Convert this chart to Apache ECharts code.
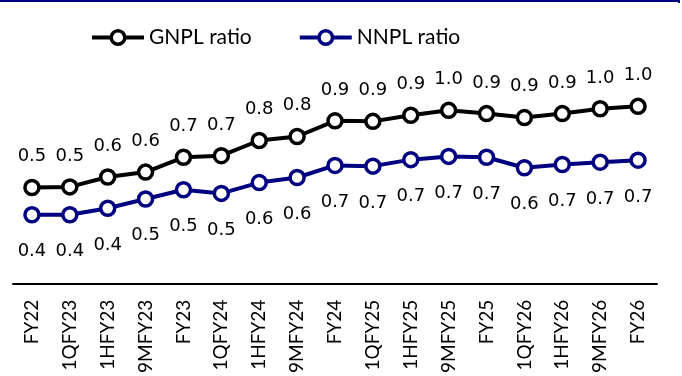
<!DOCTYPE html>
<html>
<head>
<meta charset="utf-8">
<script src="https://cdn.jsdelivr.net/npm/echarts@6/dist/echarts.min.js"></script>
<style>
  html, body { margin: 0; padding: 0; background: #fff; }
  #chart { width: 682px; height: 376px; }
</style>
</head>
<body>
<div id="chart"></div>
<script>
const categories = ['FY22','1QFY23','1HFY23','9MFY23','FY23','1QFY24','1HFY24','9MFY24','FY24','1QFY25','1HFY25','9MFY25','FY25','1QFY26','1HFY26','9MFY26','FY26'];
const gnplRatio = [0.533, 0.536, 0.591, 0.618, 0.700, 0.709, 0.793, 0.815, 0.902, 0.899, 0.933, 0.960, 0.942, 0.920, 0.942, 0.969, 0.982];
const nnplRatio = [0.382, 0.382, 0.418, 0.469, 0.520, 0.500, 0.560, 0.588, 0.655, 0.651, 0.687, 0.705, 0.700, 0.642, 0.660, 0.673, 0.684];
const seriesNames = ['GNPL ratio', 'NNPL ratio'];

const chart = echarts.init(document.getElementById('chart'));
const labelFont = { fontFamily: 'DejaVu Sans', fontSize: 18, color: '#000' };
const fmt = p => p.value.toFixed(1);

chart.setOption({
  animation: false,
  backgroundColor: '#fff',
  graphic: [{
    type: 'polyline',
    shape: { points: [[0, 1], [679, 1], [679, 3]] },
    style: { stroke: '#000080', lineWidth: 2, fill: null }
  }],
  legend: {
    left: 85, top: 22,
    itemWidth: 52, itemHeight: 17, itemGap: 46,
    itemStyle: { borderWidth: 3.5 },
    lineStyle: { width: 4 },
    textStyle: { fontFamily: 'Lato', fontSize: 21, color: '#000' },
    data: seriesNames
  },
  grid: { left: 13, right: 25, top: 67, bottom: 89, containLabel: false },
  xAxis: {
    type: 'category',
    data: categories,
    boundaryGap: true,
    axisLine: { lineStyle: { color: '#000', width: 2 } },
    axisTick: { show: false },
    axisLabel: { rotate: 90, margin: 16, fontFamily: 'Lato', fontSize: 19, color: '#000', interval: 0 }
  },
  yAxis: { type: 'value', min: 0, max: 1.2, show: false, splitLine: { show: false } },
  series: [
    {
      name: seriesNames[0], type: 'line', data: gnplRatio,
      symbol: 'circle', symbolSize: 14,
      lineStyle: { color: '#000', width: 4 },
      itemStyle: { color: '#fff', borderColor: '#000', borderWidth: 3.5 },
      label: Object.assign({ show: true, position: 'top', distance: 13, formatter: fmt }, labelFont)
    },
    {
      name: seriesNames[1], type: 'line', data: nnplRatio,
      symbol: 'circle', symbolSize: 14,
      lineStyle: { color: '#000080', width: 4 },
      itemStyle: { color: '#fff', borderColor: '#000080', borderWidth: 3.5 },
      label: Object.assign({ show: true, position: 'bottom', distance: 19, formatter: fmt }, labelFont)
    }
  ]
});
</script>
</body>
</html>
